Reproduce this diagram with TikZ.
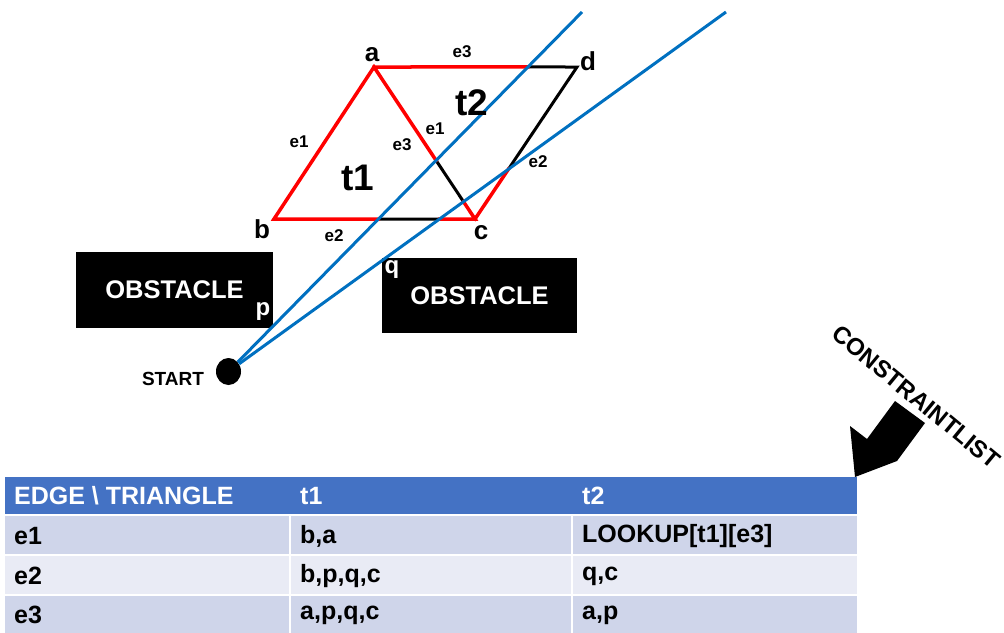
\documentclass[tikz,border=0pt]{standalone}
\usepackage{fontspec}
\setmainfont{Liberation Sans}
\usetikzlibrary{intersections,shapes.geometric}

\definecolor{rayblue}{RGB}{0,112,192}
\definecolor{headblue}{RGB}{68,114,196}
\definecolor{rowdark}{RGB}{207,213,234}
\definecolor{rowlight}{RGB}{233,235,245}

\tikzset{
  vlabel/.style={font=\fontsize{26}{28}\selectfont\bfseries, inner sep=0pt},
  elabel/.style={font=\fontsize{17}{19}\selectfont\bfseries, inner sep=0pt},
  tlabel/.style={font=\fontsize{37}{40}\selectfont\bfseries, inner sep=0pt},
  redge/.style={draw=red, line width=3.5pt, line cap=rect},
  kedge/.style={draw=black, line width=3pt},
  ray/.style={draw=rayblue, line width=3pt},
  obstacle/.style={fill=black, text=white, inner sep=0pt,
    font=\fontsize{25.5}{28}\selectfont\bfseries},
  celltext/.style={anchor=west, inner sep=0pt,
    font=\fontsize{25}{28}\selectfont\bfseries}
}

\begin{document}
\begin{tikzpicture}[x=1pt,y=-1pt]
  \useasboundingbox (0,0) rectangle (1004,632);

  % mesh corners
  \coordinate (a) at (374,67);
  \coordinate (b) at (274,219);
  \coordinate (c) at (475,219);
  \coordinate (d) at (577,67);

  % obstacles
  \node[obstacle, minimum width=197pt, minimum height=76pt] (obsL) at (174.5,290) {OBSTACLE};
  \node[obstacle, minimum width=195pt, minimum height=75pt] (obsR) at (479.5,295.5) {OBSTACLE};
  \node[font=\fontsize{24}{26}\selectfont\bfseries, inner sep=0pt, text=white] (p) at (263,312) {p};
  \node[font=\fontsize{24}{26}\selectfont\bfseries, inner sep=0pt, text=white] (q) at (392,270) {q};

  % sight rays from start
  \node[ellipse, fill=black, minimum width=25pt, minimum height=27pt, inner sep=0pt] (start) at (228.5,371.5) {};
  \coordinate (ray1end) at (582,12);
  \coordinate (ray2end) at (726,12);
  \path[name path=ray1] (start.center) -- (ray1end);
  \path[name path=ray2] (start.center) -- (ray2end);
  \path[name path=ac] (a) -- (c);
  \path[name path=bc] (b) -- (c);
  \path[name path=ad] (a) -- (d);
  \path[name path=dc] (d) -- (c);
  \path[name intersections={of=ray1 and ac, by=ac1}];
  \path[name intersections={of=ray2 and ac, by=ac2}];
  \path[name intersections={of=ray1 and bc, by=bc1}];
  \path[name intersections={of=ray2 and bc, by=bc2}];
  \path[name intersections={of=ray1 and ad, by=ad1}];
  \path[name intersections={of=ray2 and dc, by=dc2}];

  % triangle t1
  \draw[kedge] (ac1) -- (ac2);
  \draw[kedge] (bc1) -- (bc2);
  \draw[redge] (ac1) -- (a) -- (b) -- (bc1);
  \draw[redge] (ac2) -- (c) -- (bc2);
  % triangle t2
  \draw[kedge] (ad1) -- (d) -- (dc2);
  \draw[redge] (a) -- (ad1);
  \draw[redge] (dc2) -- (c);

  \draw[ray] (start) -- (ray1end);
  \draw[ray] (start) -- (ray2end);

  \node[vlabel] (la) at (372,55) {a};
  \node[vlabel] (lb) at (262,229) {b};
  \node[vlabel] (lc) at (481,233) {c};
  \node[vlabel] (ld) at (588,61) {d};
  \node[elabel] at (462,52) {e3};
  \node[elabel] at (299,142) {e1};
  \node[elabel] at (402,145) {e3};
  \node[elabel] at (435,129) {e1};
  \node[elabel] at (334,236) {e2};
  \node[elabel] at (538,162) {e2};
  \node[tlabel] (t1) at (358,178) {t1};
  \node[tlabel] (t2) at (472,103) {t2};
  \node[font=\fontsize{19}{21}\selectfont\bfseries, inner sep=0pt] (startlbl) at (173,379) {START};

  % constraint list
  \node[font=\fontsize{24}{26}\selectfont\bfseries, inner sep=0pt, rotate=-39.5] (clist) at (916,397) {CONSTRAINTLIST};
  \fill (855,477) -- (850,426) -- (867,439) -- (895,401) -- (925,423) -- (897,461) -- cycle;

  % table
  \fill[headblue] (5,477) rectangle (857,514);
  \foreach \top/\shade in {515/rowdark,555/rowlight,595/rowdark}
    \fill[\shade] (5,\top+1) rectangle (857,\top+39);
  \foreach \colx in {290,572}
    \fill[white] (\colx-1,515) rectangle (\colx+1,640);
  \node[celltext, text=white] (h0) at (14,496) {EDGE \textbackslash\ TRIANGLE};
  \node[celltext, text=white] (h1) at (300,496) {t1};
  \node[celltext, text=white] (h2) at (582,496) {t2};
  \node[celltext] at (14,536) {e1};
  \node[celltext] at (300,536) {b,a};
  \node[celltext] at (582,536) {LOOKUP[t1][e3]};
  \node[celltext] at (14,576) {e2};
  \node[celltext] at (300,576) {b,p,q,c};
  \node[celltext] at (582,576) {q,c};
  \node[celltext] at (14,615) {e3};
  \node[celltext] at (300,615) {a,p,q,c};
  \node[celltext] at (582,615) {a,p};
\end{tikzpicture}
\end{document}
